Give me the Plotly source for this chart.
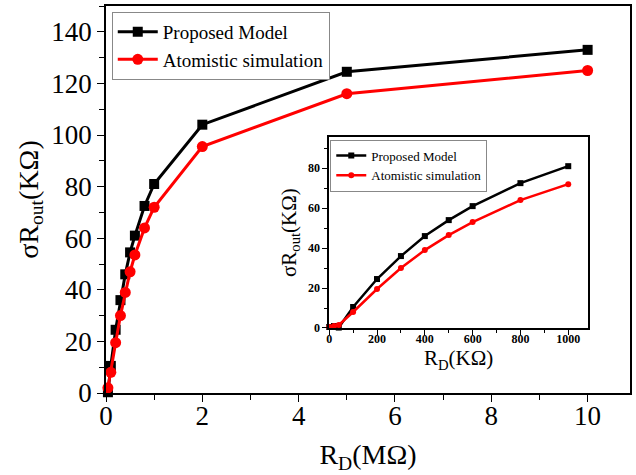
import plotly.graph_objects as go

# Main chart data (R_D in MΩ, σR_out in KΩ)
main_x = [0.04, 0.1, 0.2, 0.3, 0.4, 0.5, 0.6, 0.8, 1.0, 2.0, 5.0, 10.0]
main_model = [0.3, 10.5, 24.5, 36.0, 46.0, 54.5, 61.0, 72.5, 81.0, 104.0, 124.5, 133.0]
main_atom = [2.0, 8.0, 19.5, 30.0, 39.0, 47.0, 53.5, 64.0, 72.0, 95.5, 116.0, 125.0]

# Inset data (R_D in KΩ)
inset_x = [0, 20, 40, 100, 200, 300, 400, 500, 600, 800, 1000]
inset_model = [0.5, 1.0, 0.2, 10.5, 24.5, 36.0, 46.0, 54.0, 61.0, 72.5, 81.0]
inset_atom = [0.5, 1.0, 1.5, 8.0, 19.5, 30.0, 39.0, 46.5, 53.0, 64.0, 72.0]

SERIF = "Liberation Serif, Times New Roman, serif"

fig = go.Figure()
fig.add_trace(go.Scatter(x=main_x, y=main_model, mode="lines+markers", name="Proposed Model",
                         line=dict(color="black", width=3), marker=dict(symbol="square", size=10, color="black"),
                         legend="legend", cliponaxis=False))
fig.add_trace(go.Scatter(x=main_x, y=main_atom, mode="lines+markers", name="Atomistic simulation",
                         line=dict(color="red", width=3), marker=dict(symbol="circle", size=11, color="red"),
                         legend="legend", cliponaxis=False))
fig.add_trace(go.Scatter(x=inset_x, y=inset_model, mode="lines+markers", name="Proposed Model",
                         xaxis="x2", yaxis="y2",
                         line=dict(color="black", width=2.5), marker=dict(symbol="square", size=6, color="black"),
                         legend="legend2", cliponaxis=False))
fig.add_trace(go.Scatter(x=inset_x, y=inset_atom, mode="lines+markers", name="Atomistic simulation",
                         xaxis="x2", yaxis="y2",
                         line=dict(color="red", width=2.5), marker=dict(symbol="circle", size=6, color="red"),
                         legend="legend2", cliponaxis=False))

axis_common = dict(showline=True, linecolor="black", linewidth=1.5, mirror=True, showgrid=False,
                   zeroline=False, ticks="outside", tickcolor="black", tickwidth=1.2)

fig.update_layout(
    width=636, height=475,
    margin=dict(l=106, r=4, t=6, b=82),
    paper_bgcolor="white", plot_bgcolor="white",
    font=dict(family=SERIF, color="black"),
    xaxis=dict(**axis_common, range=[0, 10.88], dtick=2, tick0=0, ticklen=7,
               minor=dict(dtick=1, ticks="outside", ticklen=5, tickcolor="black"),
               tickfont=dict(size=27, family=SERIF),
               title=dict(text="R<sub>D</sub>(MΩ)", font=dict(size=28, family=SERIF), standoff=14)),
    yaxis=dict(**axis_common, range=[0, 150], dtick=20, tick0=0, ticklen=7,
               minor=dict(dtick=10, ticks="outside", ticklen=5, tickcolor="black"),
               tickfont=dict(size=27, family=SERIF),
               title=dict(text="σR<sub>out</sub>(KΩ)", font=dict(size=28, family=SERIF), standoff=5)),
    xaxis2=dict(**axis_common, domain=[0.426, 0.920], anchor="y2", range=[0, 1083], dtick=200, tick0=0,
                ticklen=5,
                minor=dict(dtick=100, ticks="outside", ticklen=3, tickcolor="black"),
                tickfont=dict(size=12, family=SERIF, weight="bold"),
                title=dict(text="R<sub>D</sub>(KΩ)", font=dict(size=21, family=SERIF), standoff=2)),
    yaxis2=dict(**axis_common, domain=[0.168, 0.661], anchor="x2", range=[0, 95.5], dtick=20, tick0=0,
                ticklen=5,
                minor=dict(dtick=10, ticks="outside", ticklen=3, tickcolor="black"),
                tickfont=dict(size=12, family=SERIF, weight="bold"),
                title=dict(text="σR<sub>out</sub>(KΩ)", font=dict(size=21, family=SERIF), standoff=6)),
    legend=dict(x=0.011, y=0.985, xanchor="left", yanchor="top", bgcolor="white",
                bordercolor="#888888", borderwidth=1, font=dict(size=19, family=SERIF),
                tracegroupgap=0, itemwidth=40),
    legend2=dict(x=0.428, y=0.655, xanchor="left", yanchor="top", bgcolor="white",
                 bordercolor="#888888", borderwidth=1, font=dict(size=13, family=SERIF),
                 tracegroupgap=0, itemwidth=30),
    showlegend=True,
)

# pull x tick labels a little closer to the axis (if supported)
try:
    fig.update_layout(xaxis=dict(ticklabelstandoff=-9), xaxis2=dict(ticklabelstandoff=-6))
except Exception:
    pass

fig.write_html("out.html")
